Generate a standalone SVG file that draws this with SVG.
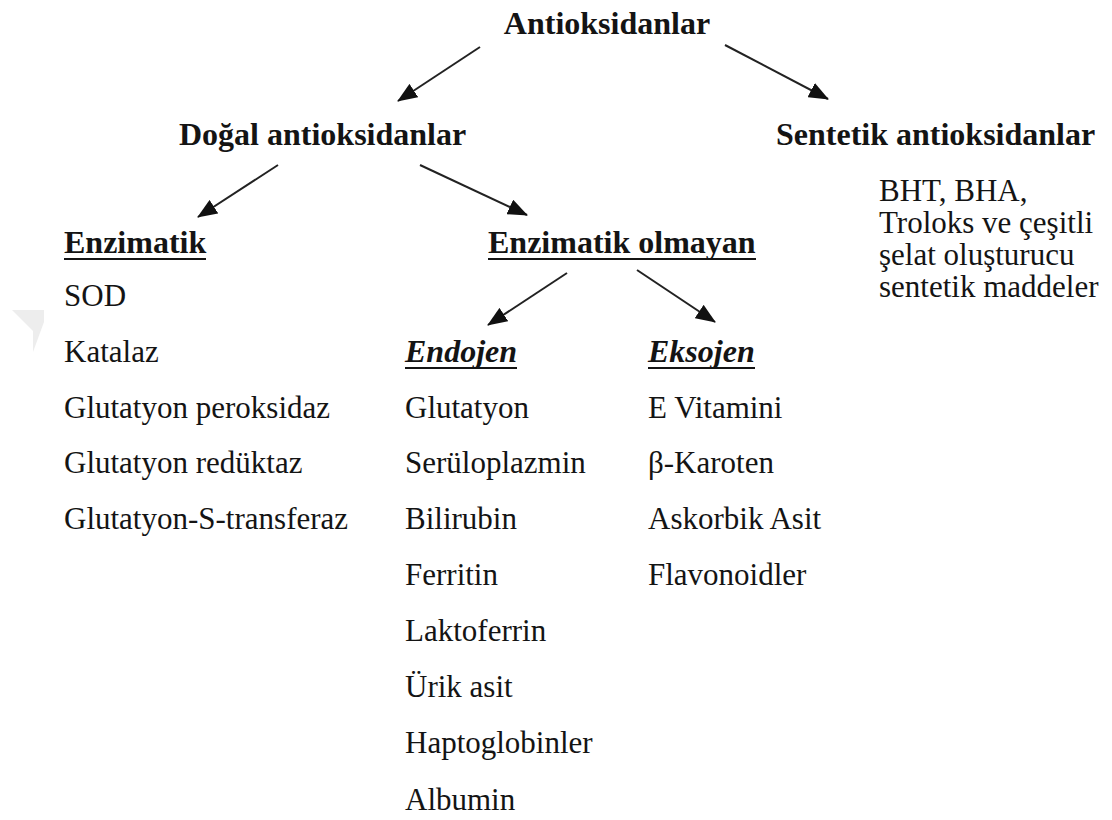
<svg xmlns="http://www.w3.org/2000/svg" width="1112" height="820" viewBox="0 0 1112 820">
<defs>
<marker id="ah" viewBox="0 0 20 16" refX="19" refY="8" markerWidth="20" markerHeight="16" markerUnits="userSpaceOnUse" orient="auto">
<path d="M0,0 L20,8 L0,16 Z" fill="#111"/>
</marker>
<style>
text{font-family:'Liberation Serif','Times New Roman',serif;fill:#141414;}
.h{font-size:32px;font-weight:bold;}
.hi{font-size:32px;font-weight:bold;font-style:italic;}
.t{font-size:31px;}
.ul{stroke:#141414;stroke-width:2.2;}
.arr{stroke:#222;stroke-width:2;fill:none;marker-end:url(#ah);}
</style>
</defs>
<rect width="1112" height="820" fill="#fff"/>
<polygon points="12,310 44,310 44,322 33,352 33,331" fill="#ededed"/>
<g id="connectors">
<line class="arr" x1="480" y1="47" x2="398" y2="101"/>
<line class="arr" x1="725" y1="45" x2="828" y2="99"/>
<line class="arr" x1="278" y1="165" x2="198" y2="217"/>
<line class="arr" x1="420" y1="165" x2="527" y2="215"/>
<line class="arr" x1="567" y1="273" x2="488" y2="325"/>
<line class="arr" x1="637" y1="270" x2="715" y2="322"/>
</g>
<g id="antioksidanlar"><text class="h" x="607" y="34" text-anchor="middle">Antioksidanlar</text></g>
<g id="dogal"><text class="h" x="179" y="145">Doğal antioksidanlar</text></g>
<g id="sentetik">
<text class="h" x="776" y="145">Sentetik antioksidanlar</text>
<text class="t" x="879" y="201">BHT, BHA,</text>
<text class="t" x="879" y="233">Troloks ve çeşitli</text>
<text class="t" x="879" y="265">şelat oluşturucu</text>
<text class="t" x="879" y="297">sentetik maddeler</text>
</g>
<g id="enzimatik">
<text class="h" x="64" y="253">Enzimatik</text>
<line class="ul" x1="64" y1="259" x2="206" y2="259"/>
<text class="t" x="64" y="306">SOD</text>
<text class="t" x="64" y="362">Katalaz</text>
<text class="t" x="64" y="418">Glutatyon peroksidaz</text>
<text class="t" x="64" y="473">Glutatyon redüktaz</text>
<text class="t" x="64" y="529">Glutatyon-S-transferaz</text>
</g>
<g id="enzimatik-olmayan">
<text class="h" x="488" y="253">Enzimatik olmayan</text>
<line class="ul" x1="488" y1="259" x2="756" y2="259"/>
</g>
<g id="endojen">
<text class="hi" x="405" y="362">Endojen</text>
<line class="ul" x1="405" y1="368" x2="517" y2="368"/>
<text class="t" x="405" y="418">Glutatyon</text>
<text class="t" x="405" y="473">Serüloplazmin</text>
<text class="t" x="405" y="529">Bilirubin</text>
<text class="t" x="405" y="585">Ferritin</text>
<text class="t" x="405" y="641">Laktoferrin</text>
<text class="t" x="405" y="697">Ürik asit</text>
<text class="t" x="405" y="753">Haptoglobinler</text>
<text class="t" x="405" y="810">Albumin</text>
</g>
<g id="eksojen">
<text class="hi" x="648" y="362">Eksojen</text>
<line class="ul" x1="648" y1="368" x2="755" y2="368"/>
<text class="t" x="648" y="418">E Vitamini</text>
<text class="t" x="648" y="473">β-Karoten</text>
<text class="t" x="648" y="529">Askorbik Asit</text>
<text class="t" x="648" y="585">Flavonoidler</text>
</g>
</svg>
